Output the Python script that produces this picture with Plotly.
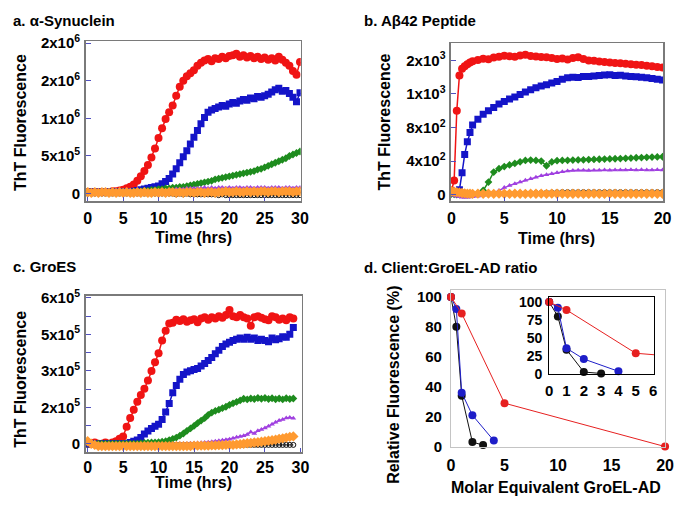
import plotly.graph_objects as go

# The page has the browser's default 8 px body margin on every side, so the
# figure is sized to fill the 685x507 window exactly inside that margin.
PAGE_W, PAGE_H = 685, 507
OFF = 8
W, H = PAGE_W - 2 * OFF, PAGE_H - 2 * OFF
FONT = "Liberation Sans, Arial, sans-serif"

# ---------------- data ----------------
# Panel a: alpha-synuclein, time (hrs) every 0.5 h, ThT in units of 1e6
t_a = [i * 0.5 for i in range(61)]
a_red = [0.02, 0.02, 0.02, 0.02, 0.02, 0.02, 0.02, 0.03, 0.03, 0.04,
         0.05, 0.07, 0.09, 0.12, 0.17, 0.23, 0.30, 0.38, 0.48, 0.60,
         0.74, 0.87, 0.99, 1.08, 1.17, 1.30, 1.42, 1.50, 1.56, 1.60,
         1.64, 1.70, 1.74, 1.77, 1.79, 1.76, 1.80, 1.79, 1.82, 1.80,
         1.83, 1.84, 1.86, 1.82, 1.84, 1.81, 1.83, 1.80, 1.82, 1.79,
         1.81, 1.78, 1.80, 1.77, 1.82, 1.78, 1.74, 1.70, 1.63, 1.58,
         1.75]
a_blue = [0.02, 0.02, 0.02, 0.02, 0.02, 0.02, 0.02, 0.02, 0.02, 0.02,
          0.02, 0.02, 0.02, 0.03, 0.04, 0.05, 0.06, 0.07, 0.08, 0.09,
          0.10, 0.13, 0.16, 0.20, 0.26, 0.33, 0.41, 0.49, 0.57, 0.66,
          0.75, 0.84, 0.93, 1.01, 1.08, 1.11, 1.13, 1.15, 1.17, 1.16,
          1.19, 1.21, 1.20, 1.23, 1.25, 1.24, 1.27, 1.26, 1.29, 1.28,
          1.30, 1.32, 1.35, 1.38, 1.40, 1.36, 1.37, 1.33, 1.28, 1.22,
          1.34]
a_green = [0.02, 0.02, 0.02, 0.02, 0.02, 0.02, 0.02, 0.02, 0.02, 0.02,
           0.02, 0.02, 0.02, 0.03, 0.03, 0.03, 0.04, 0.04, 0.05, 0.05,
           0.06, 0.06, 0.07, 0.07, 0.08, 0.08, 0.09, 0.09, 0.10, 0.11,
           0.12, 0.13, 0.14, 0.15, 0.16, 0.17, 0.19, 0.20, 0.21, 0.22,
           0.23, 0.24, 0.25, 0.26, 0.27, 0.28, 0.29, 0.30, 0.32, 0.33,
           0.35, 0.37, 0.39, 0.41, 0.43, 0.45, 0.47, 0.50, 0.52, 0.54,
           0.56]
a_purple = [0.01, 0.01, 0.01, 0.01, 0.01, 0.01, 0.01, 0.01, 0.01, 0.01,
            0.01, 0.01, 0.02, 0.02, 0.02, 0.02, 0.02, 0.03, 0.03, 0.03,
            0.03, 0.04, 0.04, 0.05, 0.05, 0.06, 0.06, 0.06, 0.07, 0.07,
            0.07, 0.07, 0.07, 0.08, 0.07, 0.08, 0.07, 0.08, 0.08, 0.07,
            0.08, 0.07, 0.08, 0.08, 0.07, 0.08, 0.08, 0.07, 0.08, 0.08,
            0.08, 0.07, 0.08, 0.08, 0.08, 0.07, 0.08, 0.08, 0.07, 0.08,
            0.08]
a_orange = [0.02, 0.01, 0.02, 0.01, 0.02, 0.02, 0.01, 0.02, 0.01, 0.02,
            0.01, 0.02, 0.01, 0.01, 0.02, 0.01, 0.02, 0.01, 0.01, 0.02,
            0.01, 0.02, 0.01, 0.02, 0.02, 0.01, 0.02, 0.01, 0.02, 0.02,
            0.01, 0.02, 0.02, 0.01, 0.02, 0.02, 0.01, 0.02, 0.02, 0.03,
            0.02, 0.02, 0.03, 0.02, 0.02, 0.03, 0.02, 0.03, 0.02, 0.03,
            0.03, 0.02, 0.03, 0.03, 0.02, 0.03, 0.03, 0.03, 0.02, 0.03,
            0.03]
a_black = [0.00, 0.00, 0.00, 0.00, 0.00, 0.00, 0.00, 0.00, 0.00, 0.00,
           0.00, 0.00, 0.00, 0.00, 0.00, 0.00, 0.00, 0.00, 0.00, 0.00,
           0.00, 0.00, 0.00, 0.00, 0.00, -0.01, 0.00, -0.01, 0.00, -0.01,
           -0.01, -0.01, -0.01, -0.01, -0.01, -0.01, -0.01, -0.02, -0.01, -0.02,
           -0.02, -0.02, -0.02, -0.02, -0.02, -0.02, -0.02, -0.02, -0.02, -0.02,
           -0.02, -0.02, -0.02, -0.02, -0.02, -0.02, -0.02, -0.02, -0.02, -0.02,
           -0.02]

# Panel b: Abeta42, ThT raw units
t_b = [0, 0.25, 0.5, 0.75, 1, 1.25, 1.5, 1.75, 2,
       2.5, 3, 3.5, 4, 4.5, 5, 5.5, 6, 6.5, 7, 7.5, 8, 8.5, 9, 9.5, 10,
       10.5, 11, 11.5, 12, 12.5, 13, 13.5, 14, 14.5, 15, 15.5, 16, 16.5,
       17, 17.5, 18, 18.5, 19, 19.5, 20]
b_red = [50, 170, 1000, 1420, 1500, 1530, 1555, 1575, 1590,
         1605, 1620, 1615, 1635, 1645, 1655, 1650, 1645, 1660, 1668, 1652,
         1648, 1642, 1638, 1628, 1618, 1622, 1612, 1628, 1638, 1618,
         1600, 1595, 1588, 1580, 1574, 1570, 1565, 1560, 1555, 1550,
         1545, 1538, 1530, 1522, 1515]
b_blue = [30, 20, 20, 60, 260, 480, 630, 740, 830,
          900, 960, 1000, 1040, 1080, 1110, 1140, 1165, 1195, 1225, 1250,
          1275, 1295, 1310, 1330, 1350, 1375, 1395, 1400, 1398, 1408,
          1410, 1415, 1420, 1425, 1428, 1420, 1424, 1415, 1410, 1405,
          1400, 1395, 1385, 1375, 1368]
b_green = [10, 5, 0, 0, 0, 0, 0, 0, 5,
           15, 50, 150, 270, 310, 335, 355, 372, 392, 408, 412,
           408, 400, 345, 390, 405, 408, 410, 412, 414, 416,
           418, 420, 422, 424, 426, 428, 430, 433, 436, 440,
           442, 445, 448, 450, 452]
b_purple = [0, -10, -20, -25, -30, -30, -30, -28, -25,
            -20, -10, 0, 20, 50, 85, 110, 130, 150, 172, 190,
            208, 225, 238, 250, 262, 272, 282, 288, 292, 290,
            288, 290, 292, 294, 292, 294, 295, 294, 296, 295,
            296, 294, 295, 296, 295]
b_orange = [40, 35, 30, 25, 20, 15, 12, 12, 10,
            12, 10, 12, 10, 12, 11, 10, 12, 11, 10, 12,
            11, 12, 10, 12, 11, 12, 10, 11, 12, 10,
            11, 12, 10, 11, 12, 11, 10, 12, 11, 10,
            12, 11, 12, 10, 11]
b_black = [5, 5, 5, 5, 5, 8, 8, 8, 8,
           10, 10, 10, 12, 12, 12, 14, 14, 15, 16, 18,
           20, 22, 24, 26, 28, 30, 30, 30, 30, 30,
           30, 30, 30, 30, 30, 30, 30, 30, 30, 30,
           30, 30, 30, 30, 30]

# Panel c: GroES, ThT in units of 1e5
t_c = [i * 0.5 for i in range(59)]
c_red = [0.05, 0.0, 0.05, 0.0, 0.0, 0.05, 0.0, 0.05, 0.1, 0.2,
         0.3, 0.7, 1.06, 1.4, 1.73, 2.0, 2.26, 2.6, 2.99, 3.35,
         3.72, 4.25, 4.65, 4.95, 4.98, 5.1, 5.05, 5.12, 5.02, 5.08,
         5.12, 5.0, 5.15, 5.2, 5.1, 5.2, 5.15, 5.25, 5.18, 5.3,
         5.5, 5.25, 5.2, 5.3, 5.2, 5.15, 4.85, 5.2, 5.25, 5.18,
         5.12, 5.08, 5.25, 5.2, 5.1, 5.15, 5.08, 5.2, 5.15]
c_blue = [0.0, 0.0, 0.0, -0.05, 0.0, 0.0, 0.0, 0.0, 0.0, 0.0,
          0.0, 0.0, 0.05, 0.1, 0.15, 0.25, 0.4, 0.52, 0.62, 0.72,
          0.8, 1.0, 1.3, 1.65, 2.1, 2.4, 2.65, 2.85, 2.95, 3.0,
          3.05, 3.1, 3.2, 3.3, 3.42, 3.55, 3.7, 3.85, 4.0, 4.1,
          4.18, 4.25, 4.3, 4.35, 4.3, 4.38, 4.3, 4.35, 4.25, 4.3,
          4.25, 4.2, 4.35, 4.28, 4.32, 4.4, 4.38, 4.5, 4.78]
c_green = [0.05, 0.0, 0.0, 0.0, 0.0, 0.0, 0.0, 0.0, 0.0, 0.0,
           0.0, 0.0, 0.0, 0.0, 0.0, 0.02, 0.03, 0.04, 0.05, 0.05,
           0.06, 0.08, 0.1, 0.15, 0.2, 0.25, 0.33, 0.42, 0.53, 0.63,
           0.73, 0.85, 0.95, 1.05, 1.19, 1.28, 1.35, 1.4, 1.46, 1.52,
           1.6, 1.66, 1.72, 1.78, 1.85, 1.82, 1.86, 1.84, 1.88, 1.85,
           1.88, 1.84, 1.87, 1.83, 1.86, 1.82, 1.87, 1.84, 1.86]
c_purple = [0.1, 0.05, 0.0, -0.05, -0.1, -0.1, -0.1, -0.1, -0.1, -0.1,
            -0.1, -0.1, -0.1, -0.1, -0.1, -0.08, -0.08, -0.08, -0.05, -0.05,
            -0.05, -0.05, -0.03, -0.03, -0.02, 0.0, 0.0, 0.0, 0.0, 0.02,
            0.02, 0.03, 0.04, 0.05, 0.06, 0.08, 0.1, 0.12, 0.14, 0.16,
            0.18, 0.22, 0.26, 0.3, 0.33, 0.38, 0.48, 0.42, 0.53, 0.58,
            0.65, 0.72, 0.8, 0.88, 0.95, 1.0, 1.06, 1.08, 1.05]
c_orange = [0.1, 0.0, -0.05, -0.1, -0.1, -0.1, -0.1, -0.1, -0.1, -0.1,
            -0.1, -0.1, -0.1, -0.1, -0.1, -0.1, -0.1, -0.1, -0.1, -0.1,
            -0.1, -0.1, -0.1, -0.1, -0.1, -0.1, -0.1, -0.1, -0.1, -0.1,
            -0.08, -0.08, -0.08, -0.08, -0.08, -0.07, -0.07, -0.06, -0.06, -0.05,
            -0.05, -0.05, -0.03, -0.02, 0.0, 0.02, 0.03, 0.05, 0.06, 0.08,
            0.1, 0.12, 0.14, 0.16, 0.2, 0.22, 0.25, 0.28, 0.3]
c_black = [-0.05] * 59

# Panel d: relative fluorescence vs molar equivalents GroEL-AD
d_red_x = [0, 1, 5, 20]
d_red_y = [100, 89, 29, 0]
d_blue_x = [0, 0.5, 1, 2, 4]
d_blue_y = [100, 92, 36, 21, 4]
d_black_x = [0, 0.5, 1, 2, 3]
d_black_y = [100, 80, 34, 3, 1]

# tick labels
a_tickvals = [0, 0.5, 1.0, 1.5, 2.0]
a_ticktext = ["0", "5x10<sup>5</sup>", "1x10<sup>6</sup>", "2x10<sup>6</sup>", "2x10<sup>6</sup>"]
b_tickvals = [0, 400, 800, 1200, 1600]
b_ticktext = ["0", "4x10<sup>2</sup>", "8x10<sup>2</sup>", "1x10<sup>3</sup>", "2x10<sup>3</sup>"]
c_tickvals = [0, 1.5, 3.0, 4.5, 6.0]
c_ticktext = ["0", "2x10<sup>5</sup>", "3x10<sup>5</sup>", "5x10<sup>5</sup>", "6x10<sup>5</sup>"]

# ---------------- styling ----------------
RED = "#f01414"
BLUE = "#1414c8"
GREEN = "#1e8c1e"
PURPLE = "#a040e0"
ORANGE = "#ff9a30"
BLACK = "#111111"

def px_x(x):
    """page pixel -> paper fraction"""
    return (x - OFF) / W

def px_y(y):
    return 1 - (y - OFF) / H

fig = go.Figure()

def kin(t, yv, color, symbol, size, xa, ya, scale, lw=1.5):
    fig.add_trace(go.Scatter(
        x=t, y=[v * scale for v in yv], mode="lines+markers",
        line=dict(color=color, width=lw),
        marker=dict(color=color, symbol=symbol, size=size,
                    line=dict(width=1 if "open" in symbol else 0, color=color)),
        xaxis=xa, yaxis=ya, showlegend=False, hoverinfo="skip"))

for (t, s, xa, ya, sc) in [
    (t_a, [a_black, a_red, a_blue, a_green, a_purple, a_orange], "x", "y", 1e6),
    (t_b, [b_black, b_red, b_blue, b_green, b_purple, b_orange], "x2", "y2", 1.0),
    (t_c, [c_black, c_red, c_blue, c_green, c_purple, c_orange], "x3", "y3", 1e5),
]:
    kin(t, s[0], BLACK, "circle-open", 5, xa, ya, sc, lw=1)
    kin(t, s[1], RED, "circle", 8, xa, ya, sc)
    kin(t, s[2], BLUE, "square", 7, xa, ya, sc)
    kin(t, s[3], GREEN, "diamond", 6, xa, ya, sc)
    kin(t, s[4], PURPLE, "triangle-up", 5, xa, ya, sc)
    kin(t, s[5], ORANGE, "diamond", 8, xa, ya, sc)

D_RED = "#e62020"
D_BLUE = "#1e1ec8"
for xs, ys, col in [(d_black_x, d_black_y, BLACK), (d_blue_x, d_blue_y, D_BLUE), (d_red_x, d_red_y, D_RED)]:
    fig.add_trace(go.Scatter(x=xs, y=ys, mode="lines+markers",
                             line=dict(color=col, width=1), marker=dict(color=col, size=8),
                             xaxis="x4", yaxis="y4", cliponaxis=False,
                             showlegend=False, hoverinfo="skip"))
    # inset: full line (clipped), markers only for visible points
    fig.add_trace(go.Scatter(x=xs, y=ys, mode="lines",
                             line=dict(color=col, width=1),
                             xaxis="x5", yaxis="y5", showlegend=False, hoverinfo="skip"))
    vis = [(x, y) for x, y in zip(xs, ys) if x <= 6]
    fig.add_trace(go.Scatter(x=[v[0] for v in vis], y=[v[1] for v in vis], mode="markers",
                             marker=dict(color=col, size=8),
                             xaxis="x5", yaxis="y5", cliponaxis=False,
                             showlegend=False, hoverinfo="skip"))

FRAME = "#7a7a7a"
TICKC = "#5050c0"

def kin_x(dom, rng, anchor, tv, standoff=2):
    return dict(domain=dom, range=rng, anchor=anchor, tickvals=tv,
                showline=True, mirror=True, linecolor=FRAME, linewidth=1.5,
                ticks="inside", ticklen=4, tickcolor=TICKC, tickwidth=1,
                tickfont=dict(family=FONT, size=16, color="black", weight="bold"),
                ticklabelstandoff=standoff, showgrid=False, zeroline=False)

def kin_y(dom, rng, anchor, tv, tt, minor=False):
    d = dict(domain=dom, range=rng, anchor=anchor, tickvals=tv, ticktext=tt,
             showline=True, mirror=True, linecolor=FRAME, linewidth=1.5,
             ticks="inside", ticklen=5, tickcolor=TICKC, tickwidth=1,
             tickfont=dict(family=FONT, size=15, color="black", weight="bold"),
             ticklabelstandoff=1, showgrid=False, zeroline=False)
    if minor:
        d["minor"] = dict(tickvals=[0.75e5, 2.25e5, 3.75e5, 5.25e5], ticks="inside",
                          ticklen=5, tickcolor=TICKC, showgrid=False)
    return d

fig.update_layout(
    width=W, height=H, margin=dict(l=0, r=0, t=0, b=0),
    paper_bgcolor="white", plot_bgcolor="white",
    font=dict(family=FONT, color="black"),
    xaxis=kin_x([px_x(83), px_x(302)], [-0.3, 30.1], "y", [0, 5, 10, 15, 20, 25, 30]),
    yaxis=kin_y([px_y(199), px_y(33)], [-0.103e6, 2.026e6], "x",
                [v * 1e6 for v in a_tickvals], a_ticktext),
    xaxis2=kin_x([px_x(455), px_x(671)], [-0.05, 20.05], "y2", [0, 5, 10, 15, 20]),
    yaxis2=kin_y([px_y(199), px_y(35)], [-80, 1807], "x2", b_tickvals, b_ticktext),
    xaxis3=kin_x([px_x(83), px_x(303)], [-0.28, 30.18], "y3", [0, 5, 10, 15, 20, 25, 30],
                 standoff=0),
    yaxis3=kin_y([px_y(459), px_y(297)], [-0.358e5, 6.08e5], "x3",
                 [v * 1e5 for v in c_tickvals], c_ticktext, minor=True),
    xaxis4=dict(domain=[px_x(455), px_x(673)], range=[0, 20], anchor="y4",
                tickvals=[0, 5, 10, 15, 20], showline=True, mirror=True,
                linecolor="#c4c4c4", linewidth=1, ticks="",
                tickfont=dict(family=FONT, size=16, color="black", weight="bold"),
                ticklabelstandoff=4, showgrid=False, zeroline=False),
    yaxis4=dict(domain=[px_y(453), px_y(291)], range=[0, 104.5], anchor="x4",
                tickvals=[0, 20, 40, 60, 80, 100], showline=True, mirror=True,
                linecolor="#c4c4c4", linewidth=1, ticks="",
                tickfont=dict(family=FONT, size=15, color="black", weight="bold"),
                ticklabelstandoff=5, showgrid=False, zeroline=False),
    xaxis5=dict(domain=[px_x(555), px_x(662)], range=[0, 6.07], anchor="y5",
                tickvals=[0, 1, 2, 3, 4, 5, 6], showline=True, mirror=True,
                linecolor="black", linewidth=1, ticks="",
                tickfont=dict(family=FONT, size=15, color="black", weight="bold"),
                ticklabelstandoff=3, showgrid=False, zeroline=False),
    yaxis5=dict(domain=[px_y(378), px_y(298)], range=[0, 107], anchor="x5",
                tickvals=[0, 25, 50, 75, 100], showline=True, mirror=True,
                linecolor="black", linewidth=1, ticks="",
                tickfont=dict(family=FONT, size=14, color="black", weight="bold"),
                ticklabelstandoff=3, showgrid=False, zeroline=False),
)

def ann(text, x, y, size=16, xanchor="center", angle=0):
    fig.add_annotation(text="<b>%s</b>" % text, x=px_x(x), y=px_y(y), xref="paper", yref="paper",
                       xanchor=xanchor, yanchor="middle", showarrow=False, textangle=angle,
                       borderpad=0,
                       font=dict(family=FONT, size=size, color="black"))

ann("a. α-Synuclein", 8, 12, size=15, xanchor="left")
ann("b. Aβ42 Peptide", 365, 12, size=15, xanchor="left")
ann("c. GroES", 8, 266, size=15, xanchor="left")
ann("d. Client:GroEL-AD ratio", 365, 267, size=15, xanchor="left")
ann("ThT Fluorescence", 16, 117, angle=-90)
ann("Time (hrs)", 193, 236)
ann("ThT Fluorescence", 387, 117, angle=-90)
ann("Time (hrs)", 562, 237)
ann("ThT Fluorescence", 16, 383, angle=-90)
ann("Time (hrs)", 193, 490)
ann("Relative Fluorescence (%)", 397, 389, angle=-90)
ann("Molar Equivalent GroEL-AD", 562, 495)

fig.write_html("out.html", config={"displayModeBar": False, "staticPlot": True})
